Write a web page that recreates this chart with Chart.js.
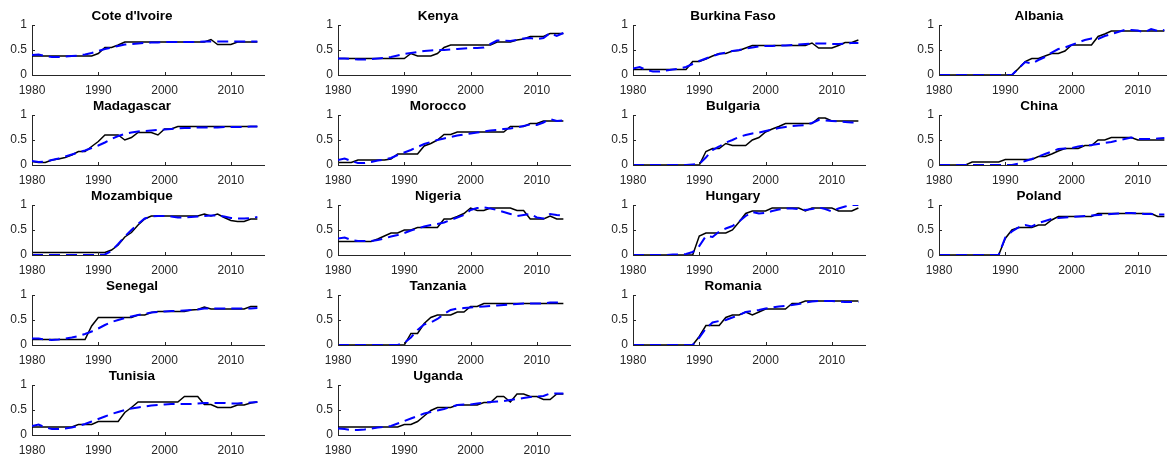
<!DOCTYPE html>
<html>
<head>
<meta charset="utf-8">
<script src="https://cdn.jsdelivr.net/npm/chart.js@4.4.1/dist/chart.umd.min.js"></script>
<style>
  html, body { margin: 0; padding: 0; background: #ffffff; }
  body { width: 1167px; height: 460px; overflow: hidden; position: relative; }
  .panel { position: absolute; }
</style>
</head>
<body>
<script>
// ---------------- DATA ----------------
const years = [1980,1981,1982,1983,1984,1985,1986,1987,1988,1989,
               1990,1991,1992,1993,1994,1995,1996,1997,1998,1999,
               2000,2001,2002,2003,2004,2005,2006,2007,2008,2009,
               2010,2011,2012,2013,2014];
const xTickValues = [1980, 1990, 2000, 2010];
const yTickValues = [0, 0.5, 1];

const coteDIvoireActual = [0.38,0.38,0.38,0.38,0.38,0.38,0.38,0.38,0.38,0.38, 0.43,0.55,0.55,0.60,0.66,0.66,0.66,0.66,0.66,0.66, 0.66,0.66,0.66,0.66,0.66,0.66,0.66,0.71,0.61,0.61, 0.61,0.66,0.66,0.66,0.66];
const coteDIvoireFit    = [0.40,0.41,0.38,0.36,0.36,0.37,0.38,0.39,0.41,0.44, 0.48,0.52,0.55,0.58,0.61,0.62,0.63,0.64,0.65,0.65, 0.66,0.66,0.66,0.66,0.66,0.66,0.67,0.67,0.67,0.67, 0.67,0.67,0.67,0.67,0.67];

const madagascarActual = [0.07,0.05,0.05,0.10,0.12,0.15,0.20,0.27,0.27,0.37, 0.47,0.60,0.60,0.60,0.50,0.55,0.65,0.65,0.65,0.60, 0.72,0.72,0.77,0.77,0.77,0.77,0.77,0.77,0.77,0.77, 0.77,0.77,0.77,0.77,0.77];
const madagascarFit    = [0.08,0.06,0.07,0.10,0.13,0.17,0.21,0.25,0.29,0.34, 0.39,0.45,0.52,0.58,0.62,0.65,0.67,0.68,0.69,0.70, 0.71,0.72,0.73,0.74,0.74,0.75,0.75,0.75,0.75,0.76, 0.76,0.76,0.76,0.77,0.77];

const mozambiqueActual = [0.05,0.05,0.05,0.05,0.05,0.05,0.05,0.05,0.05,0.05, 0.05,0.05,0.10,0.20,0.36,0.45,0.60,0.72,0.78,0.78, 0.78,0.78,0.78,0.78,0.78,0.78,0.82,0.78,0.82,0.75, 0.69,0.67,0.67,0.72,0.72];
const mozambiqueFit    = [0,0,0,0,0,0,0,0,0,0, 0,0.01,0.08,0.22,0.37,0.50,0.62,0.73,0.77,0.78, 0.78,0.77,0.75,0.75,0.76,0.77,0.78,0.79,0.79,0.77, 0.74,0.73,0.73,0.74,0.76];

const senegalActual = [0.11,0.11,0.11,0.11,0.11,0.11,0.11,0.11,0.11,0.38, 0.55,0.55,0.55,0.55,0.55,0.55,0.60,0.60,0.65,0.67, 0.67,0.67,0.67,0.67,0.70,0.71,0.76,0.72,0.72,0.72, 0.72,0.72,0.72,0.77,0.77];
const senegalFit    = [0.13,0.13,0.11,0.10,0.11,0.13,0.15,0.18,0.22,0.27, 0.33,0.40,0.46,0.50,0.54,0.57,0.60,0.62,0.65,0.66, 0.67,0.68,0.68,0.69,0.70,0.71,0.73,0.73,0.73,0.73, 0.73,0.73,0.73,0.73,0.74];

const tunisiaActual = [0.16,0.16,0.16,0.16,0.16,0.16,0.16,0.21,0.21,0.21, 0.27,0.27,0.27,0.27,0.45,0.55,0.66,0.66,0.66,0.66, 0.66,0.66,0.66,0.77,0.77,0.77,0.61,0.61,0.55,0.55, 0.55,0.60,0.60,0.64,0.66];
const tunisiaFit    = [0.18,0.21,0.15,0.12,0.12,0.13,0.15,0.18,0.22,0.27, 0.32,0.37,0.42,0.46,0.50,0.53,0.55,0.57,0.59,0.60, 0.61,0.62,0.62,0.62,0.62,0.63,0.64,0.64,0.64,0.64, 0.63,0.63,0.64,0.65,0.66];

const kenyaActual = [0.33,0.33,0.33,0.33,0.33,0.33,0.33,0.33,0.33,0.33, 0.33,0.43,0.38,0.38,0.38,0.43,0.55,0.60,0.60,0.60, 0.60,0.60,0.60,0.60,0.66,0.66,0.66,0.70,0.72,0.77, 0.77,0.77,0.83,0.83,0.83];
const kenyaFit    = [0.33,0.33,0.32,0.31,0.31,0.32,0.33,0.34,0.36,0.39, 0.42,0.44,0.46,0.48,0.49,0.50,0.50,0.51,0.52,0.53, 0.54,0.54,0.55,0.62,0.69,0.69,0.68,0.70,0.73,0.74, 0.72,0.74,0.84,0.78,0.84];

const moroccoActual = [0.05,0.05,0.05,0.10,0.10,0.10,0.10,0.10,0.12,0.22, 0.22,0.22,0.22,0.38,0.43,0.50,0.61,0.61,0.66,0.66, 0.66,0.66,0.66,0.66,0.66,0.66,0.77,0.77,0.77,0.83, 0.83,0.88,0.88,0.88,0.88];
const moroccoFit    = [0.10,0.13,0.08,0.04,0.04,0.06,0.09,0.11,0.14,0.20, 0.25,0.30,0.36,0.42,0.46,0.50,0.53,0.56,0.59,0.61, 0.63,0.65,0.67,0.69,0.70,0.72,0.73,0.75,0.78,0.81, 0.80,0.85,0.92,0.88,0.89];

const nigeriaActual = [0.27,0.27,0.27,0.27,0.27,0.27,0.32,0.38,0.44,0.44, 0.50,0.50,0.55,0.55,0.55,0.55,0.72,0.72,0.77,0.83, 0.94,0.89,0.89,0.94,0.94,0.94,0.94,0.89,0.89,0.72, 0.72,0.72,0.78,0.72,0.72];
const nigeriaFit    = [0.33,0.35,0.30,0.28,0.28,0.28,0.30,0.33,0.37,0.40, 0.44,0.49,0.53,0.57,0.60,0.62,0.65,0.70,0.75,0.80, 0.90,0.94,0.95,0.93,0.90,0.86,0.82,0.78,0.80,0.82, 0.75,0.73,0.82,0.80,0.79];

const tanzaniaActual = [0,0,0,0,0,0,0,0,0,0, 0,0.23,0.23,0.43,0.55,0.60,0.60,0.60,0.66,0.66, 0.77,0.77,0.83,0.83,0.83,0.83,0.83,0.83,0.83,0.83, 0.83,0.83,0.83,0.83,0.83];
const tanzaniaFit    = [0,0,0,0,0,0,0,0,0,0, 0.04,0.15,0.30,0.41,0.45,0.52,0.62,0.70,0.73,0.74, 0.75,0.76,0.77,0.78,0.79,0.80,0.81,0.82,0.83,0.83, 0.83,0.83,0.85,0.85,0.86];

const ugandaActual = [0.16,0.16,0.16,0.16,0.16,0.16,0.16,0.16,0.16,0.16, 0.21,0.21,0.27,0.38,0.49,0.55,0.55,0.55,0.60,0.60, 0.60,0.60,0.65,0.65,0.77,0.77,0.66,0.82,0.82,0.77, 0.77,0.71,0.71,0.82,0.82];
const ugandaFit    = [0.13,0.12,0.10,0.10,0.11,0.13,0.15,0.16,0.18,0.23, 0.28,0.33,0.38,0.43,0.46,0.49,0.52,0.56,0.60,0.61, 0.61,0.63,0.65,0.66,0.67,0.68,0.70,0.72,0.74,0.76, 0.77,0.78,0.83,0.83,0.83];

const burkinaFasoActual = [0.11,0.11,0.11,0.11,0.11,0.11,0.11,0.11,0.11,0.27, 0.27,0.32,0.38,0.43,0.43,0.48,0.49,0.54,0.59,0.59, 0.59,0.59,0.59,0.59,0.59,0.59,0.59,0.64,0.54,0.54, 0.54,0.59,0.65,0.65,0.70];
const burkinaFasoFit    = [0.13,0.16,0.10,0.07,0.07,0.09,0.11,0.13,0.16,0.22, 0.28,0.33,0.38,0.42,0.45,0.48,0.50,0.53,0.55,0.57, 0.58,0.58,0.59,0.59,0.60,0.61,0.62,0.63,0.63,0.63, 0.62,0.62,0.63,0.64,0.64];

const bulgariaActual = [0,0,0,0,0,0,0,0,0,0, 0,0.27,0.33,0.33,0.43,0.39,0.39,0.39,0.50,0.55, 0.66,0.72,0.77,0.83,0.83,0.83,0.83,0.83,0.94,0.94, 0.88,0.88,0.88,0.88,0.88];
const bulgariaFit    = [0,0,0,0,0,0,0,0,0,0.01, 0.02,0.15,0.30,0.37,0.45,0.50,0.56,0.60,0.63,0.65, 0.68,0.71,0.74,0.76,0.78,0.79,0.80,0.84,0.90,0.89, 0.88,0.87,0.86,0.85,0.85];

const hungaryActual = [0,0,0,0,0,0,0,0,0,0, 0.38,0.44,0.44,0.44,0.44,0.50,0.66,0.83,0.88,0.88, 0.88,0.94,0.94,0.94,0.94,0.94,0.88,0.94,0.94,0.94, 0.94,0.88,0.88,0.88,0.94];
const hungaryFit    = [0,0,0,0,0,0,0.01,0.01,0.02,0.06, 0.18,0.38,0.36,0.47,0.53,0.58,0.67,0.78,0.86,0.83, 0.84,0.88,0.91,0.93,0.93,0.92,0.90,0.92,0.95,0.92, 0.87,0.93,0.97,1.00,1.00];

const romaniaActual = [0,0,0,0,0,0,0,0,0,0, 0.17,0.39,0.39,0.39,0.55,0.60,0.60,0.66,0.60,0.66, 0.72,0.72,0.72,0.72,0.83,0.83,0.88,0.88,0.88,0.88, 0.88,0.88,0.88,0.88,0.88];
const romaniaFit    = [0,0,0,0,0,0,0,0,0,0, 0.15,0.33,0.45,0.48,0.50,0.55,0.60,0.66,0.68,0.70, 0.73,0.75,0.77,0.78,0.80,0.82,0.85,0.87,0.88,0.88, 0.88,0.87,0.86,0.86,0.86];

const albaniaActual = [0,0,0,0,0,0,0,0,0,0, 0,0,0.13,0.27,0.33,0.33,0.38,0.43,0.43,0.48, 0.60,0.60,0.60,0.60,0.77,0.82,0.88,0.88,0.88,0.88, 0.88,0.88,0.88,0.88,0.88];
const albaniaFit    = [0,0,0,0,0,0,0,0,0,0, 0,0,0.13,0.26,0.23,0.30,0.36,0.45,0.52,0.55, 0.60,0.65,0.70,0.73,0.72,0.78,0.82,0.86,0.90,0.90, 0.89,0.85,0.92,0.88,0.90];

const chinaActual = [0,0,0,0,0,0.06,0.06,0.06,0.06,0.06, 0.11,0.11,0.11,0.11,0.11,0.17,0.17,0.22,0.28,0.33, 0.33,0.33,0.39,0.39,0.50,0.50,0.55,0.55,0.55,0.55, 0.50,0.50,0.50,0.50,0.50];
const chinaFit    = [0,0,0,0,0,0,0,0,0,0, 0,0,0.03,0.08,0.12,0.17,0.22,0.27,0.32,0.33, 0.34,0.37,0.39,0.40,0.42,0.44,0.46,0.49,0.52,0.55, 0.52,0.52,0.52,0.53,0.54];

const polandActual = [0,0,0,0,0,0,0,0,0,0, 0.33,0.50,0.55,0.55,0.55,0.60,0.60,0.70,0.77,0.77, 0.77,0.77,0.77,0.77,0.83,0.83,0.83,0.83,0.83,0.83, 0.83,0.83,0.83,0.77,0.77];
const polandFit    = [0,0,0,0,0,0,0,0,0,0, 0.35,0.47,0.55,0.60,0.57,0.64,0.68,0.72,0.74,0.75, 0.76,0.77,0.78,0.79,0.80,0.81,0.82,0.83,0.84,0.84, 0.83,0.82,0.82,0.81,0.81];

// ---------------- LAYOUT ----------------
const panels = [
  { title: "Cote d'Ivoire", actual: coteDIvoireActual, fit: coteDIvoireFit, col: 0, row: 0 },
  { title: "Madagascar",    actual: madagascarActual,  fit: madagascarFit,  col: 0, row: 1 },
  { title: "Mozambique",    actual: mozambiqueActual,  fit: mozambiqueFit,  col: 0, row: 2 },
  { title: "Senegal",       actual: senegalActual,     fit: senegalFit,     col: 0, row: 3 },
  { title: "Tunisia",       actual: tunisiaActual,     fit: tunisiaFit,     col: 0, row: 4 },
  { title: "Kenya",         actual: kenyaActual,       fit: kenyaFit,       col: 1, row: 0 },
  { title: "Morocco",       actual: moroccoActual,     fit: moroccoFit,     col: 1, row: 1 },
  { title: "Nigeria",       actual: nigeriaActual,     fit: nigeriaFit,     col: 1, row: 2 },
  { title: "Tanzania",      actual: tanzaniaActual,    fit: tanzaniaFit,    col: 1, row: 3 },
  { title: "Uganda",        actual: ugandaActual,      fit: ugandaFit,      col: 1, row: 4 },
  { title: "Burkina Faso",  actual: burkinaFasoActual, fit: burkinaFasoFit, col: 2, row: 0 },
  { title: "Bulgaria",      actual: bulgariaActual,    fit: bulgariaFit,    col: 2, row: 1 },
  { title: "Hungary",       actual: hungaryActual,     fit: hungaryFit,     col: 2, row: 2 },
  { title: "Romania",       actual: romaniaActual,     fit: romaniaFit,     col: 2, row: 3 },
  { title: "Albania",       actual: albaniaActual,     fit: albaniaFit,     col: 3, row: 0 },
  { title: "China",         actual: chinaActual,       fit: chinaFit,       col: 3, row: 1 },
  { title: "Poland",        actual: polandActual,      fit: polandFit,      col: 3, row: 2 }
];

const PLOT_LEFT = [32, 338, 633, 939];
const PLOT_TOP  = [25, 115, 205, 295, 385];
const PLOT_W = 232, PLOT_H = 50;
const Y_W = 32, TITLE_H = 24, X_H = 26, PAD_R = 32;
const AXIS_COLOR = '#262626';
const FONT = "'Liberation Sans', Arial, Helvetica, sans-serif";
const TICK_LEN = 3;

const inwardTicks = {
  id: 'inwardTicks',
  afterDraw(chart) {
    const { ctx, chartArea, scales } = chart;
    ctx.save();
    ctx.strokeStyle = AXIS_COLOR;
    ctx.lineWidth = 1;
    ctx.beginPath();
    scales.x.ticks.forEach(t => {
      const px = Math.round(scales.x.getPixelForValue(t.value)) + 0.5;
      ctx.moveTo(px, chartArea.bottom);
      ctx.lineTo(px, chartArea.bottom - TICK_LEN);
    });
    scales.y.ticks.forEach(t => {
      const py = Math.round(scales.y.getPixelForValue(t.value)) + 0.5;
      ctx.moveTo(chartArea.left, py);
      ctx.lineTo(chartArea.left + TICK_LEN, py);
    });
    ctx.stroke();
    ctx.restore();
  }
};

panels.forEach(p => {
  const W = Y_W + PLOT_W + PAD_R;
  const H = TITLE_H + PLOT_H + X_H;
  const c = document.createElement('canvas');
  c.className = 'panel';
  c.width = W; c.height = H;
  c.style.width = W + 'px'; c.style.height = H + 'px';
  c.style.left = (PLOT_LEFT[p.col] - Y_W) + 'px';
  c.style.top = (PLOT_TOP[p.row] - TITLE_H) + 'px';
  document.body.appendChild(c);

  new Chart(c, {
    type: 'line',
    data: {
      datasets: [
        {
          label: 'fit',
          data: years.map((yr, i) => ({ x: yr, y: p.fit[i] })),
          borderColor: '#0000ff',
          borderWidth: 2,
          borderDash: [11, 6],
          pointRadius: 0,
          tension: 0,
          fill: false
        },
        {
          label: 'actual',
          data: years.map((yr, i) => ({ x: yr, y: p.actual[i] })),
          borderColor: '#000000',
          borderWidth: 1.5,
          pointRadius: 0,
          tension: 0,
          fill: false
        }
      ]
    },
    options: {
      responsive: false,
      animation: false,
      devicePixelRatio: 1,
      layout: { padding: { left: 0, right: PAD_R, top: 0, bottom: 0 } },
      plugins: {
        legend: { display: false },
        tooltip: { enabled: false },
        title: {
          display: true,
          text: p.title,
          color: '#000000',
          font: { family: FONT, size: 13.5, weight: 'bold', lineHeight: 1 },
          padding: { top: 9, bottom: 1.5 }
        }
      },
      scales: {
        x: {
          type: 'linear',
          min: 1980, max: 2015,
          afterBuildTicks: s => { s.ticks = xTickValues.map(v => ({ value: v })); },
          afterFit: s => { s.height = X_H; },
          grid: { display: false, drawTicks: false },
          border: { display: true, color: AXIS_COLOR, width: 1 },
          ticks: {
            color: AXIS_COLOR,
            font: { family: FONT, size: 12 },
            padding: 8,
            maxRotation: 0,
            autoSkip: false,
            callback: v => String(v)
          }
        },
        y: {
          type: 'linear',
          min: 0, max: 1,
          afterBuildTicks: s => { s.ticks = yTickValues.map(v => ({ value: v })); },
          afterFit: s => { s.width = Y_W; },
          grid: { display: false, drawTicks: false },
          border: { display: true, color: AXIS_COLOR, width: 1 },
          ticks: {
            color: AXIS_COLOR,
            font: { family: FONT, size: 12 },
            padding: 5,
            autoSkip: false,
            callback: v => String(v)
          }
        }
      }
    },
    plugins: [inwardTicks]
  });
});
</script>
</body>
</html>
